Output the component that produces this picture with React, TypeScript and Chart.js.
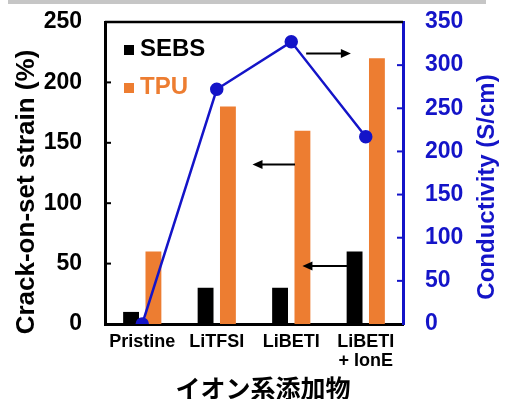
import React, { useEffect, useRef } from "react";
import { Chart, registerables } from "chart.js";

Chart.register(...registerables);

const categories: (string | string[])[] = ["Pristine", "LiTFSI", "LiBETI", ["LiBETI", "+ IonE"]];
const sebsStrain = [10, 30, 30, 60];
const tpuStrain = [60, 180, 160, 220];
const conductivity = [0, 272, 327, 217];

const seriesLabels = ["SEBS", "TPU"];
const leftTitle = "Crack-on-set strain (%)";
const rightTitle = "Conductivity (S/cm)";
const xTitle = "イオン系添加物";

// arrows: start (tail) / end (head) in category-index units, height in left-axis units
const arrowStart = [2.2, 2.05, 2.75];
const arrowEnd = [2.8, 1.48, 2.15];
const arrowValue = [224, 132, 48];

const BLUE = "#1414c8";
const ORANGE = "#ED7D31";
const FONT = "'Liberation Sans', Arial, sans-serif";

const decorPlugin = {
  id: "decor",
  beforeDraw(chart: any) {
    const ctx = chart.ctx;
    ctx.save();
    ctx.fillStyle = "#c6c6c6";
    ctx.fillRect(8, 0, 478, 4);
    ctx.restore();
  },
  afterDatasetsDraw(chart: any) {
    const ctx = chart.ctx;
    const x = chart.scales.x;
    const y = chart.scales.y;
    ctx.save();
    ctx.strokeStyle = "#000";
    ctx.fillStyle = "#000";
    ctx.lineWidth = 2;
    for (let i = 0; i < arrowStart.length; i++) {
      const x0 = x.getPixelForValue(arrowStart[i]);
      const x1 = x.getPixelForValue(arrowEnd[i]);
      const py = y.getPixelForValue(arrowValue[i]);
      const dir = x1 > x0 ? 1 : -1;
      ctx.beginPath();
      ctx.moveTo(x0, py);
      ctx.lineTo(x1 - dir * 8, py);
      ctx.stroke();
      ctx.beginPath();
      ctx.moveTo(x1, py);
      ctx.lineTo(x1 - dir * 10, py - 4.5);
      ctx.lineTo(x1 - dir * 10, py + 4.5);
      ctx.closePath();
      ctx.fill();
    }
    const colors = ["#000000", ORANGE];
    const rows = [48, 86];
    ctx.font = `bold 24px ${FONT}`;
    ctx.textBaseline = "middle";
    ctx.textAlign = "left";
    for (let i = 0; i < seriesLabels.length; i++) {
      ctx.fillStyle = colors[i];
      ctx.fillRect(chart.chartArea.left + 19, rows[i] - 3, 10, 10);
      ctx.fillText(seriesLabels[i], chart.chartArea.left + 35, rows[i] + 1);
    }
    ctx.restore();
  },
  afterDraw(chart: any) {
    const ctx = chart.ctx;
    const { left, right, top } = chart.chartArea;
    const y = chart.scales.y;
    const y1 = chart.scales.y1;
    ctx.save();
    ctx.strokeStyle = "#000";
    ctx.lineWidth = 2.5;
    ctx.beginPath();
    ctx.moveTo(left, top);
    ctx.lineTo(right, top);
    ctx.stroke();
    ctx.lineWidth = 2;
    y.ticks.forEach((t: any) => {
      if (t.value === y.min || t.value === y.max) return;
      const py = y.getPixelForValue(t.value);
      ctx.beginPath();
      ctx.moveTo(left, py);
      ctx.lineTo(left + 6, py);
      ctx.stroke();
    });
    ctx.strokeStyle = BLUE;
    y1.ticks.forEach((t: any) => {
      if (t.value === y1.min || t.value === y1.max) return;
      const py = y1.getPixelForValue(t.value);
      ctx.beginPath();
      ctx.moveTo(right, py);
      ctx.lineTo(right - 6, py);
      ctx.stroke();
    });
    ctx.textAlign = "center";
    ctx.textBaseline = "middle";
    ctx.font = `bold 26px ${FONT}`;
    ctx.fillStyle = "#000";
    ctx.save();
    ctx.translate(27, 192);
    ctx.rotate(-Math.PI / 2);
    ctx.fillText(leftTitle, 0, 0);
    ctx.restore();
    ctx.font = `bold 24px ${FONT}`;
    ctx.fillStyle = BLUE;
    ctx.save();
    ctx.translate(487, 187);
    ctx.rotate(-Math.PI / 2);
    ctx.fillText(rightTitle, 0, 0);
    ctx.restore();
    ctx.fillStyle = "#000";
    ctx.font = `bold 25px 'Noto Sans CJK JP', sans-serif`;
    ctx.fillText(xTitle, 263, 388);
    ctx.restore();
  },
};

export default function App() {
  const ref = useRef<HTMLCanvasElement | null>(null);
  useEffect(() => {
    if (!ref.current) return;
    const chart = new Chart(ref.current, {
      type: "bar",
      data: {
        labels: categories as any,
        datasets: [
          {
            type: "line" as const,
            label: "Conductivity",
            data: conductivity,
            yAxisID: "y1",
            borderColor: BLUE,
            backgroundColor: BLUE,
            borderWidth: 2.5,
            pointRadius: 5.5,
            pointBackgroundColor: BLUE,
            pointBorderColor: BLUE,
            tension: 0,
            order: 0,
          } as any,
          {
            label: seriesLabels[0],
            data: sebsStrain,
            backgroundColor: "#000000",
            yAxisID: "y",
            barPercentage: 0.71,
            categoryPercentage: 0.6,
            order: 1,
          },
          {
            label: seriesLabels[1],
            data: tpuStrain,
            backgroundColor: ORANGE,
            yAxisID: "y",
            barPercentage: 0.71,
            categoryPercentage: 0.6,
            order: 1,
          },
        ],
      },
      options: {
        responsive: false,
        animation: false,
        layout: { autoPadding: false, padding: { top: 22, left: 0, right: 0, bottom: 0 } },
        plugins: { legend: { display: false }, tooltip: { enabled: false } },
        scales: {
          x: {
            grid: { display: false, drawTicks: false },
            border: { display: true, color: "#000", width: 3 },
            ticks: {
              color: "#000",
              font: { family: FONT, size: 18, weight: "bold", lineHeight: 1.05 },
              padding: 9,
              maxRotation: 0,
              autoSkip: false,
            },
            afterFit: (s: any) => {
              s.height = 75;
            },
          },
          y: {
            position: "left",
            min: 0,
            max: 250,
            grid: { display: false, drawTicks: false },
            border: { display: true, color: "#000", width: 3 },
            ticks: {
              stepSize: 50,
              color: "#000",
              font: { family: FONT, size: 23, weight: "bold" },
              padding: 23,
            },
            afterFit: (s: any) => {
              s.width = 105;
              s.paddingTop = 0;
              s.paddingBottom = 0;
            },
          },
          y1: {
            position: "right",
            min: 0,
            max: 350,
            grid: { display: false, drawTicks: false },
            border: { display: true, color: BLUE, width: 3 },
            ticks: {
              stepSize: 50,
              color: BLUE,
              font: { family: FONT, size: 23, weight: "bold" },
              padding: 22,
            },
            afterFit: (s: any) => {
              s.width = 108;
              s.paddingTop = 0;
              s.paddingBottom = 0;
            },
          },
        },
      } as any,
      plugins: [decorPlugin],
    });
    return () => chart.destroy();
  }, []);
  return (
    <div style={{ position: "absolute", left: 0, top: 0, width: 511, height: 399, background: "#fff" }}>
      <canvas ref={ref} width={511} height={399} style={{ display: "block" }} />
    </div>
  );
}
